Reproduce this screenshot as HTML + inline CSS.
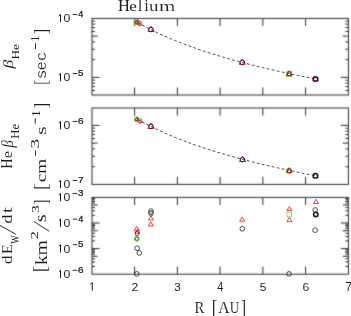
<!DOCTYPE html><html><head><meta charset="utf-8"><style>html,body{margin:0;padding:0;background:#fff;overflow:hidden}svg{display:block}</style></head><body><svg width="351" height="316" viewBox="0 0 351 316"><defs><filter id="soft" filterUnits="userSpaceOnUse" x="0" y="0" width="351" height="316"><feConvolveMatrix order="3" kernelMatrix="0.0400 0.2000 0.0400 0.2000 1.0000 0.2000 0.0400 0.2000 0.0400" edgeMode="none" preserveAlpha="false"/></filter><filter id="softm" filterUnits="userSpaceOnUse" x="0" y="0" width="351" height="316"><feConvolveMatrix order="3" kernelMatrix="0.0000 0.0000 0.0000 0.0000 1.0000 0.0000 0.0000 0.0000 0.0000" edgeMode="none" preserveAlpha="false"/></filter><filter id="softt" filterUnits="userSpaceOnUse" x="0" y="0" width="351" height="316"><feConvolveMatrix order="3" kernelMatrix="0.0000 0.0000 0.0000 0.0000 1.0000 0.0000 0.0000 0.0000 0.0000" edgeMode="none" preserveAlpha="false"/></filter></defs><rect width="351" height="316" fill="#fff"/><g filter="url(#soft)"><rect x="92.00" y="18.40" width="256.40" height="76.60" fill="none" stroke="#2e2e2e" stroke-width="1.0"/><line x1="134.60" y1="95.00" x2="134.60" y2="87.40" stroke="#2e2e2e" stroke-width="1.0"/><line x1="134.60" y1="18.40" x2="134.60" y2="26.00" stroke="#2e2e2e" stroke-width="1.0"/><line x1="177.35" y1="95.00" x2="177.35" y2="87.40" stroke="#2e2e2e" stroke-width="1.0"/><line x1="177.35" y1="18.40" x2="177.35" y2="26.00" stroke="#2e2e2e" stroke-width="1.0"/><line x1="220.10" y1="95.00" x2="220.10" y2="87.40" stroke="#2e2e2e" stroke-width="1.0"/><line x1="220.10" y1="18.40" x2="220.10" y2="26.00" stroke="#2e2e2e" stroke-width="1.0"/><line x1="262.85" y1="95.00" x2="262.85" y2="87.40" stroke="#2e2e2e" stroke-width="1.0"/><line x1="262.85" y1="18.40" x2="262.85" y2="26.00" stroke="#2e2e2e" stroke-width="1.0"/><line x1="305.60" y1="95.00" x2="305.60" y2="87.40" stroke="#2e2e2e" stroke-width="1.0"/><line x1="305.60" y1="18.40" x2="305.60" y2="26.00" stroke="#2e2e2e" stroke-width="1.0"/><line x1="92.00" y1="90.49" x2="95.00" y2="90.49" stroke="#2e2e2e" stroke-width="1.0"/><line x1="348.40" y1="90.49" x2="345.40" y2="90.49" stroke="#2e2e2e" stroke-width="1.0"/><line x1="92.00" y1="86.54" x2="95.00" y2="86.54" stroke="#2e2e2e" stroke-width="1.0"/><line x1="348.40" y1="86.54" x2="345.40" y2="86.54" stroke="#2e2e2e" stroke-width="1.0"/><line x1="92.00" y1="83.12" x2="95.00" y2="83.12" stroke="#2e2e2e" stroke-width="1.0"/><line x1="348.40" y1="83.12" x2="345.40" y2="83.12" stroke="#2e2e2e" stroke-width="1.0"/><line x1="92.00" y1="80.10" x2="95.00" y2="80.10" stroke="#2e2e2e" stroke-width="1.0"/><line x1="348.40" y1="80.10" x2="345.40" y2="80.10" stroke="#2e2e2e" stroke-width="1.0"/><line x1="92.00" y1="77.40" x2="99.60" y2="77.40" stroke="#2e2e2e" stroke-width="1.0"/><line x1="348.40" y1="77.40" x2="340.80" y2="77.40" stroke="#2e2e2e" stroke-width="1.0"/><line x1="92.00" y1="59.64" x2="95.00" y2="59.64" stroke="#2e2e2e" stroke-width="1.0"/><line x1="348.40" y1="59.64" x2="345.40" y2="59.64" stroke="#2e2e2e" stroke-width="1.0"/><line x1="92.00" y1="49.25" x2="95.00" y2="49.25" stroke="#2e2e2e" stroke-width="1.0"/><line x1="348.40" y1="49.25" x2="345.40" y2="49.25" stroke="#2e2e2e" stroke-width="1.0"/><line x1="92.00" y1="41.88" x2="95.00" y2="41.88" stroke="#2e2e2e" stroke-width="1.0"/><line x1="348.40" y1="41.88" x2="345.40" y2="41.88" stroke="#2e2e2e" stroke-width="1.0"/><line x1="92.00" y1="36.16" x2="97.60" y2="36.16" stroke="#2e2e2e" stroke-width="1.0"/><line x1="348.40" y1="36.16" x2="342.80" y2="36.16" stroke="#2e2e2e" stroke-width="1.0"/><line x1="92.00" y1="31.49" x2="95.00" y2="31.49" stroke="#2e2e2e" stroke-width="1.0"/><line x1="348.40" y1="31.49" x2="345.40" y2="31.49" stroke="#2e2e2e" stroke-width="1.0"/><line x1="92.00" y1="27.54" x2="95.00" y2="27.54" stroke="#2e2e2e" stroke-width="1.0"/><line x1="348.40" y1="27.54" x2="345.40" y2="27.54" stroke="#2e2e2e" stroke-width="1.0"/><line x1="92.00" y1="24.12" x2="95.00" y2="24.12" stroke="#2e2e2e" stroke-width="1.0"/><line x1="348.40" y1="24.12" x2="345.40" y2="24.12" stroke="#2e2e2e" stroke-width="1.0"/><line x1="92.00" y1="21.10" x2="95.00" y2="21.10" stroke="#2e2e2e" stroke-width="1.0"/><line x1="348.40" y1="21.10" x2="345.40" y2="21.10" stroke="#2e2e2e" stroke-width="1.0"/><rect x="92.00" y="108.00" width="256.40" height="76.40" fill="none" stroke="#2e2e2e" stroke-width="1.0"/><line x1="134.60" y1="184.40" x2="134.60" y2="176.80" stroke="#2e2e2e" stroke-width="1.0"/><line x1="134.60" y1="108.00" x2="134.60" y2="115.60" stroke="#2e2e2e" stroke-width="1.0"/><line x1="177.35" y1="184.40" x2="177.35" y2="176.80" stroke="#2e2e2e" stroke-width="1.0"/><line x1="177.35" y1="108.00" x2="177.35" y2="115.60" stroke="#2e2e2e" stroke-width="1.0"/><line x1="220.10" y1="184.40" x2="220.10" y2="176.80" stroke="#2e2e2e" stroke-width="1.0"/><line x1="220.10" y1="108.00" x2="220.10" y2="115.60" stroke="#2e2e2e" stroke-width="1.0"/><line x1="262.85" y1="184.40" x2="262.85" y2="176.80" stroke="#2e2e2e" stroke-width="1.0"/><line x1="262.85" y1="108.00" x2="262.85" y2="115.60" stroke="#2e2e2e" stroke-width="1.0"/><line x1="305.60" y1="184.40" x2="305.60" y2="176.80" stroke="#2e2e2e" stroke-width="1.0"/><line x1="305.60" y1="108.00" x2="305.60" y2="115.60" stroke="#2e2e2e" stroke-width="1.0"/><line x1="92.00" y1="166.64" x2="95.00" y2="166.64" stroke="#2e2e2e" stroke-width="1.0"/><line x1="348.40" y1="166.64" x2="345.40" y2="166.64" stroke="#2e2e2e" stroke-width="1.0"/><line x1="92.00" y1="156.25" x2="95.00" y2="156.25" stroke="#2e2e2e" stroke-width="1.0"/><line x1="348.40" y1="156.25" x2="345.40" y2="156.25" stroke="#2e2e2e" stroke-width="1.0"/><line x1="92.00" y1="148.88" x2="95.00" y2="148.88" stroke="#2e2e2e" stroke-width="1.0"/><line x1="348.40" y1="148.88" x2="345.40" y2="148.88" stroke="#2e2e2e" stroke-width="1.0"/><line x1="92.00" y1="143.16" x2="97.60" y2="143.16" stroke="#2e2e2e" stroke-width="1.0"/><line x1="348.40" y1="143.16" x2="342.80" y2="143.16" stroke="#2e2e2e" stroke-width="1.0"/><line x1="92.00" y1="138.49" x2="95.00" y2="138.49" stroke="#2e2e2e" stroke-width="1.0"/><line x1="348.40" y1="138.49" x2="345.40" y2="138.49" stroke="#2e2e2e" stroke-width="1.0"/><line x1="92.00" y1="134.54" x2="95.00" y2="134.54" stroke="#2e2e2e" stroke-width="1.0"/><line x1="348.40" y1="134.54" x2="345.40" y2="134.54" stroke="#2e2e2e" stroke-width="1.0"/><line x1="92.00" y1="131.12" x2="95.00" y2="131.12" stroke="#2e2e2e" stroke-width="1.0"/><line x1="348.40" y1="131.12" x2="345.40" y2="131.12" stroke="#2e2e2e" stroke-width="1.0"/><line x1="92.00" y1="128.10" x2="95.00" y2="128.10" stroke="#2e2e2e" stroke-width="1.0"/><line x1="348.40" y1="128.10" x2="345.40" y2="128.10" stroke="#2e2e2e" stroke-width="1.0"/><line x1="92.00" y1="125.40" x2="99.60" y2="125.40" stroke="#2e2e2e" stroke-width="1.0"/><line x1="348.40" y1="125.40" x2="340.80" y2="125.40" stroke="#2e2e2e" stroke-width="1.0"/><rect x="92.00" y="197.40" width="256.40" height="76.80" fill="none" stroke="#2e2e2e" stroke-width="1.0"/><line x1="134.60" y1="274.20" x2="134.60" y2="266.60" stroke="#2e2e2e" stroke-width="1.0"/><line x1="134.60" y1="197.40" x2="134.60" y2="205.00" stroke="#2e2e2e" stroke-width="1.0"/><line x1="177.35" y1="274.20" x2="177.35" y2="266.60" stroke="#2e2e2e" stroke-width="1.0"/><line x1="177.35" y1="197.40" x2="177.35" y2="205.00" stroke="#2e2e2e" stroke-width="1.0"/><line x1="220.10" y1="274.20" x2="220.10" y2="266.60" stroke="#2e2e2e" stroke-width="1.0"/><line x1="220.10" y1="197.40" x2="220.10" y2="205.00" stroke="#2e2e2e" stroke-width="1.0"/><line x1="262.85" y1="274.20" x2="262.85" y2="266.60" stroke="#2e2e2e" stroke-width="1.0"/><line x1="262.85" y1="197.40" x2="262.85" y2="205.00" stroke="#2e2e2e" stroke-width="1.0"/><line x1="305.60" y1="274.20" x2="305.60" y2="266.60" stroke="#2e2e2e" stroke-width="1.0"/><line x1="305.60" y1="197.40" x2="305.60" y2="205.00" stroke="#2e2e2e" stroke-width="1.0"/><line x1="92.00" y1="266.49" x2="95.00" y2="266.49" stroke="#2e2e2e" stroke-width="1.0"/><line x1="348.40" y1="266.49" x2="345.40" y2="266.49" stroke="#2e2e2e" stroke-width="1.0"/><line x1="92.00" y1="261.99" x2="95.00" y2="261.99" stroke="#2e2e2e" stroke-width="1.0"/><line x1="348.40" y1="261.99" x2="345.40" y2="261.99" stroke="#2e2e2e" stroke-width="1.0"/><line x1="92.00" y1="258.79" x2="95.00" y2="258.79" stroke="#2e2e2e" stroke-width="1.0"/><line x1="348.40" y1="258.79" x2="345.40" y2="258.79" stroke="#2e2e2e" stroke-width="1.0"/><line x1="92.00" y1="256.31" x2="97.60" y2="256.31" stroke="#2e2e2e" stroke-width="1.0"/><line x1="348.40" y1="256.31" x2="342.80" y2="256.31" stroke="#2e2e2e" stroke-width="1.0"/><line x1="92.00" y1="254.28" x2="95.00" y2="254.28" stroke="#2e2e2e" stroke-width="1.0"/><line x1="348.40" y1="254.28" x2="345.40" y2="254.28" stroke="#2e2e2e" stroke-width="1.0"/><line x1="92.00" y1="252.57" x2="95.00" y2="252.57" stroke="#2e2e2e" stroke-width="1.0"/><line x1="348.40" y1="252.57" x2="345.40" y2="252.57" stroke="#2e2e2e" stroke-width="1.0"/><line x1="92.00" y1="251.08" x2="95.00" y2="251.08" stroke="#2e2e2e" stroke-width="1.0"/><line x1="348.40" y1="251.08" x2="345.40" y2="251.08" stroke="#2e2e2e" stroke-width="1.0"/><line x1="92.00" y1="249.77" x2="95.00" y2="249.77" stroke="#2e2e2e" stroke-width="1.0"/><line x1="348.40" y1="249.77" x2="345.40" y2="249.77" stroke="#2e2e2e" stroke-width="1.0"/><line x1="92.00" y1="248.60" x2="99.60" y2="248.60" stroke="#2e2e2e" stroke-width="1.0"/><line x1="348.40" y1="248.60" x2="340.80" y2="248.60" stroke="#2e2e2e" stroke-width="1.0"/><line x1="92.00" y1="240.89" x2="95.00" y2="240.89" stroke="#2e2e2e" stroke-width="1.0"/><line x1="348.40" y1="240.89" x2="345.40" y2="240.89" stroke="#2e2e2e" stroke-width="1.0"/><line x1="92.00" y1="236.39" x2="95.00" y2="236.39" stroke="#2e2e2e" stroke-width="1.0"/><line x1="348.40" y1="236.39" x2="345.40" y2="236.39" stroke="#2e2e2e" stroke-width="1.0"/><line x1="92.00" y1="233.19" x2="95.00" y2="233.19" stroke="#2e2e2e" stroke-width="1.0"/><line x1="348.40" y1="233.19" x2="345.40" y2="233.19" stroke="#2e2e2e" stroke-width="1.0"/><line x1="92.00" y1="230.71" x2="97.60" y2="230.71" stroke="#2e2e2e" stroke-width="1.0"/><line x1="348.40" y1="230.71" x2="342.80" y2="230.71" stroke="#2e2e2e" stroke-width="1.0"/><line x1="92.00" y1="228.68" x2="95.00" y2="228.68" stroke="#2e2e2e" stroke-width="1.0"/><line x1="348.40" y1="228.68" x2="345.40" y2="228.68" stroke="#2e2e2e" stroke-width="1.0"/><line x1="92.00" y1="226.97" x2="95.00" y2="226.97" stroke="#2e2e2e" stroke-width="1.0"/><line x1="348.40" y1="226.97" x2="345.40" y2="226.97" stroke="#2e2e2e" stroke-width="1.0"/><line x1="92.00" y1="225.48" x2="95.00" y2="225.48" stroke="#2e2e2e" stroke-width="1.0"/><line x1="348.40" y1="225.48" x2="345.40" y2="225.48" stroke="#2e2e2e" stroke-width="1.0"/><line x1="92.00" y1="224.17" x2="95.00" y2="224.17" stroke="#2e2e2e" stroke-width="1.0"/><line x1="348.40" y1="224.17" x2="345.40" y2="224.17" stroke="#2e2e2e" stroke-width="1.0"/><line x1="92.00" y1="223.00" x2="99.60" y2="223.00" stroke="#2e2e2e" stroke-width="1.0"/><line x1="348.40" y1="223.00" x2="340.80" y2="223.00" stroke="#2e2e2e" stroke-width="1.0"/><line x1="92.00" y1="215.29" x2="95.00" y2="215.29" stroke="#2e2e2e" stroke-width="1.0"/><line x1="348.40" y1="215.29" x2="345.40" y2="215.29" stroke="#2e2e2e" stroke-width="1.0"/><line x1="92.00" y1="210.79" x2="95.00" y2="210.79" stroke="#2e2e2e" stroke-width="1.0"/><line x1="348.40" y1="210.79" x2="345.40" y2="210.79" stroke="#2e2e2e" stroke-width="1.0"/><line x1="92.00" y1="207.59" x2="95.00" y2="207.59" stroke="#2e2e2e" stroke-width="1.0"/><line x1="348.40" y1="207.59" x2="345.40" y2="207.59" stroke="#2e2e2e" stroke-width="1.0"/><line x1="92.00" y1="205.11" x2="97.60" y2="205.11" stroke="#2e2e2e" stroke-width="1.0"/><line x1="348.40" y1="205.11" x2="342.80" y2="205.11" stroke="#2e2e2e" stroke-width="1.0"/><line x1="92.00" y1="203.08" x2="95.00" y2="203.08" stroke="#2e2e2e" stroke-width="1.0"/><line x1="348.40" y1="203.08" x2="345.40" y2="203.08" stroke="#2e2e2e" stroke-width="1.0"/><line x1="92.00" y1="201.37" x2="95.00" y2="201.37" stroke="#2e2e2e" stroke-width="1.0"/><line x1="348.40" y1="201.37" x2="345.40" y2="201.37" stroke="#2e2e2e" stroke-width="1.0"/><line x1="92.00" y1="199.88" x2="95.00" y2="199.88" stroke="#2e2e2e" stroke-width="1.0"/><line x1="348.40" y1="199.88" x2="345.40" y2="199.88" stroke="#2e2e2e" stroke-width="1.0"/><line x1="92.00" y1="198.57" x2="95.00" y2="198.57" stroke="#2e2e2e" stroke-width="1.0"/><line x1="348.40" y1="198.57" x2="345.40" y2="198.57" stroke="#2e2e2e" stroke-width="1.0"/></g><g filter="url(#softt)"><polyline points="137.50,22.40 139.73,23.67 141.95,24.92 144.18,26.13 146.41,27.32 148.63,28.48 150.86,29.61 153.08,30.72 155.31,31.81 157.54,32.87 159.76,33.91 161.99,34.93 164.22,35.93 166.44,36.91 168.67,37.88 170.89,38.82 173.12,39.75 175.35,40.66 177.57,41.56 179.80,42.44 182.03,43.30 184.25,44.16 186.48,44.99 188.70,45.82 190.93,46.63 193.16,47.43 195.38,48.21 197.61,48.99 199.84,49.75 202.06,50.50 204.29,51.24 206.51,51.97 208.74,52.69 210.97,53.40 213.19,54.10 215.42,54.79 217.65,55.47 219.87,56.14 222.10,56.81 224.32,57.46 226.55,58.11 228.78,58.75 231.00,59.38 233.23,60.00 235.46,60.62 237.68,61.23 239.91,61.83 242.13,62.42 244.36,63.01 246.59,63.59 248.81,64.17 251.04,64.73 253.27,65.30 255.49,65.85 257.72,66.40 259.94,66.95 262.17,67.48 264.40,68.02 266.62,68.54 268.85,69.07 271.08,69.58 273.30,70.09 275.53,70.60 277.75,71.10 279.98,71.60 282.21,72.09 284.43,72.58 286.66,73.06 288.88,73.54 291.11,74.01 293.34,74.48 295.56,74.95 297.79,75.41 300.02,75.86 302.24,76.32 304.47,76.76 306.70,77.21 308.92,77.65 311.15,78.09 313.37,78.52 315.60,78.95" fill="none" stroke="#484848" stroke-width="1.0" stroke-dasharray="2.8 2.3"/><polyline points="137.50,119.20 139.73,120.47 141.95,121.72 144.18,122.93 146.41,124.12 148.63,125.28 150.86,126.41 153.08,127.52 155.31,128.61 157.54,129.67 159.76,130.71 161.99,131.73 164.22,132.73 166.44,133.71 168.67,134.68 170.89,135.62 173.12,136.55 175.35,137.46 177.57,138.36 179.80,139.24 182.03,140.10 184.25,140.96 186.48,141.79 188.70,142.62 190.93,143.43 193.16,144.23 195.38,145.01 197.61,145.79 199.84,146.55 202.06,147.30 204.29,148.04 206.51,148.77 208.74,149.49 210.97,150.20 213.19,150.90 215.42,151.59 217.65,152.27 219.87,152.94 222.10,153.61 224.32,154.26 226.55,154.91 228.78,155.55 231.00,156.18 233.23,156.80 235.46,157.42 237.68,158.03 239.91,158.63 242.13,159.22 244.36,159.81 246.59,160.39 248.81,160.97 251.04,161.53 253.27,162.10 255.49,162.65 257.72,163.20 259.94,163.75 262.17,164.28 264.40,164.82 266.62,165.34 268.85,165.87 271.08,166.38 273.30,166.89 275.53,167.40 277.75,167.90 279.98,168.40 282.21,168.89 284.43,169.38 286.66,169.86 288.88,170.34 291.11,170.81 293.34,171.28 295.56,171.75 297.79,172.21 300.02,172.66 302.24,173.12 304.47,173.56 306.70,174.01 308.92,174.45 311.15,174.89 313.37,175.32 315.60,175.75" fill="none" stroke="#484848" stroke-width="1.0" stroke-dasharray="2.8 2.3"/></g><g filter="url(#softm)"><rect x="134.25" y="19.55" width="4.7" height="4.7" fill="none" stroke="#5cd02c" stroke-width="1.0"/><circle cx="136.80" cy="22.20" r="1.8" fill="none" stroke="#f00000" stroke-width="1.0"/><circle cx="137.00" cy="22.30" r="1.2" fill="none" stroke="#334" stroke-width="0.75"/><circle cx="139.50" cy="23.40" r="2.3" fill="none" stroke="#555" stroke-width="0.75"/><polygon points="140.00,22.47 141.50,25.02 138.50,25.02" fill="none" stroke="#f00000" stroke-width="0.75"/><polygon points="151.00,26.04 154.20,31.48 147.80,31.48" fill="none" stroke="#f00000" stroke-width="0.8"/><circle cx="151.00" cy="29.50" r="2.3" fill="none" stroke="#1a1a1a" stroke-width="0.9"/><polygon points="242.30,58.94 245.50,64.38 239.10,64.38" fill="none" stroke="#f00000" stroke-width="0.8"/><circle cx="242.30" cy="62.40" r="2.3" fill="none" stroke="#1a1a1a" stroke-width="0.9"/><rect x="286.70" y="71.40" width="5.0" height="5.0" fill="none" stroke="#5cd02c" stroke-width="0.9"/><circle cx="289.20" cy="73.80" r="1.9" fill="none" stroke="#1a1a1a" stroke-width="0.9"/><polygon points="289.20,70.64 292.10,75.57 286.30,75.57" fill="none" stroke="#f00000" stroke-width="0.75"/><polygon points="315.50,76.04 318.40,80.97 312.60,80.97" fill="none" stroke="#f00000" stroke-width="0.7"/><circle cx="315.50" cy="79.00" r="2.3" fill="none" stroke="#1a1a1a" stroke-width="1.5"/><circle cx="136.60" cy="119.00" r="2.4" fill="none" stroke="#5cd02c" stroke-width="1.0"/><polygon points="136.80,117.46 138.70,120.69 134.90,120.69" fill="none" stroke="#f00000" stroke-width="0.75"/><circle cx="136.90" cy="119.30" r="1.2" fill="none" stroke="#334" stroke-width="0.75"/><circle cx="139.80" cy="121.00" r="2.3" fill="none" stroke="#555" stroke-width="0.75"/><polygon points="140.20,119.97 141.60,122.35 138.80,122.35" fill="none" stroke="#f00000" stroke-width="0.75"/><polygon points="151.00,123.04 154.20,128.48 147.80,128.48" fill="none" stroke="#f00000" stroke-width="0.8"/><circle cx="151.00" cy="126.50" r="2.3" fill="none" stroke="#1a1a1a" stroke-width="0.9"/><polygon points="242.50,156.14 245.70,161.58 239.30,161.58" fill="none" stroke="#f00000" stroke-width="0.8"/><circle cx="242.50" cy="159.60" r="2.3" fill="none" stroke="#1a1a1a" stroke-width="0.9"/><circle cx="289.20" cy="170.80" r="2.7" fill="none" stroke="#5cd02c" stroke-width="0.9"/><circle cx="289.20" cy="170.80" r="1.9" fill="none" stroke="#1a1a1a" stroke-width="0.9"/><polygon points="289.20,167.64 292.10,172.57 286.30,172.57" fill="none" stroke="#f00000" stroke-width="0.75"/><polygon points="315.50,172.84 318.40,177.77 312.60,177.77" fill="none" stroke="#f00000" stroke-width="0.7"/><circle cx="315.50" cy="175.80" r="2.3" fill="none" stroke="#1a1a1a" stroke-width="1.5"/><polygon points="136.70,226.45 139.20,230.70 134.20,230.70" fill="none" stroke="#f00000" stroke-width="0.75"/><polygon points="137.60,228.95 140.10,233.20 135.10,233.20" fill="none" stroke="#f00000" stroke-width="0.75"/><circle cx="137.00" cy="233.50" r="2.0" fill="none" stroke="#1a1a1a" stroke-width="0.75"/><circle cx="136.80" cy="238.80" r="2.5" fill="none" stroke="#5cd02c" stroke-width="1.0"/><circle cx="136.80" cy="238.80" r="1.6" fill="none" stroke="#334" stroke-width="0.75"/><circle cx="137.10" cy="248.20" r="2.35" fill="none" stroke="#1a1a1a" stroke-width="0.75"/><circle cx="139.30" cy="253.00" r="2.35" fill="none" stroke="#1a1a1a" stroke-width="0.75"/><circle cx="136.80" cy="273.90" r="2.35" fill="none" stroke="#1a1a1a" stroke-width="0.75"/><circle cx="151.00" cy="211.00" r="2.35" fill="none" stroke="#444" stroke-width="0.75"/><circle cx="151.00" cy="212.30" r="2.35" fill="none" stroke="#444" stroke-width="0.75"/><circle cx="151.00" cy="213.60" r="2.35" fill="none" stroke="#444" stroke-width="0.75"/><polygon points="151.00,215.65 153.50,219.90 148.50,219.90" fill="none" stroke="#f00000" stroke-width="0.75"/><polygon points="150.80,221.75 153.30,226.00 148.30,226.00" fill="none" stroke="#f00000" stroke-width="0.75"/><polygon points="242.20,216.95 244.70,221.20 239.70,221.20" fill="none" stroke="#f00000" stroke-width="0.75"/><circle cx="242.30" cy="228.80" r="2.35" fill="none" stroke="#1a1a1a" stroke-width="0.75"/><polygon points="289.40,206.45 291.90,210.70 286.90,210.70" fill="none" stroke="#f00000" stroke-width="0.75"/><rect x="287.00" y="212.20" width="4.6" height="4.6" fill="none" stroke="#8ed860" stroke-width="0.9"/><polygon points="289.40,217.45 291.90,221.70 286.90,221.70" fill="none" stroke="#f00000" stroke-width="0.75"/><circle cx="289.00" cy="273.90" r="2.35" fill="none" stroke="#1a1a1a" stroke-width="0.75"/><polygon points="316.00,199.25 318.50,203.50 313.50,203.50" fill="none" stroke="#f00000" stroke-width="0.75"/><circle cx="315.20" cy="210.00" r="2.35" fill="none" stroke="#1a1a1a" stroke-width="0.75"/><polygon points="315.80,211.95 318.10,215.86 313.50,215.86" fill="none" stroke="#f00000" stroke-width="0.7"/><circle cx="315.80" cy="214.50" r="2.3" fill="none" stroke="#1a1a1a" stroke-width="1.3"/><circle cx="315.10" cy="230.20" r="2.35" fill="none" stroke="#1a1a1a" stroke-width="0.75"/></g><g filter="url(#softt)"><path d="M90.30,284.30 L92.30,282.70 L92.30,290.70" fill="none" stroke="#1a1a1a" stroke-width="1.0" stroke-linejoin="miter"/><path d="M58.90,15.90 L60.50,14.50 L60.50,22.30" fill="none" stroke="#1a1a1a" stroke-width="1.0" stroke-linejoin="miter"/><line x1="72.8" y1="14.50" x2="77.2" y2="14.50" stroke="#1a1a1a" stroke-width="0.9"/><path d="M58.90,74.90 L60.50,73.50 L60.50,81.30" fill="none" stroke="#1a1a1a" stroke-width="1.0" stroke-linejoin="miter"/><line x1="72.8" y1="73.50" x2="77.2" y2="73.50" stroke="#1a1a1a" stroke-width="0.9"/><path d="M58.90,122.90 L60.50,121.50 L60.50,129.30" fill="none" stroke="#1a1a1a" stroke-width="1.0" stroke-linejoin="miter"/><line x1="72.8" y1="121.50" x2="77.2" y2="121.50" stroke="#1a1a1a" stroke-width="0.9"/><path d="M58.90,181.90 L60.50,180.50 L60.50,188.30" fill="none" stroke="#1a1a1a" stroke-width="1.0" stroke-linejoin="miter"/><line x1="72.8" y1="180.50" x2="77.2" y2="180.50" stroke="#1a1a1a" stroke-width="0.9"/><path d="M58.90,194.90 L60.50,193.50 L60.50,201.30" fill="none" stroke="#1a1a1a" stroke-width="1.0" stroke-linejoin="miter"/><line x1="72.8" y1="193.50" x2="77.2" y2="193.50" stroke="#1a1a1a" stroke-width="0.9"/><path d="M58.90,220.50 L60.50,219.10 L60.50,226.90" fill="none" stroke="#1a1a1a" stroke-width="1.0" stroke-linejoin="miter"/><line x1="72.8" y1="219.10" x2="77.2" y2="219.10" stroke="#1a1a1a" stroke-width="0.9"/><path d="M58.90,246.10 L60.50,244.70 L60.50,252.50" fill="none" stroke="#1a1a1a" stroke-width="1.0" stroke-linejoin="miter"/><line x1="72.8" y1="244.70" x2="77.2" y2="244.70" stroke="#1a1a1a" stroke-width="0.9"/><path d="M58.90,271.70 L60.50,270.30 L60.50,278.10" fill="none" stroke="#1a1a1a" stroke-width="1.0" stroke-linejoin="miter"/><line x1="72.8" y1="270.30" x2="77.2" y2="270.30" stroke="#1a1a1a" stroke-width="0.9"/><line x1="35.5" y1="49.3" x2="35.5" y2="43.3" stroke="#1a1a1a" stroke-width="0.9"/><line x1="35.5" y1="155.7" x2="35.5" y2="150.5" stroke="#1a1a1a" stroke-width="0.9"/><line x1="35.3" y1="123.7" x2="35.3" y2="118.2" stroke="#1a1a1a" stroke-width="0.9"/><line x1="15.7" y1="234.2" x2="0.0" y2="225.4" stroke="#1a1a1a" stroke-width="0.9"/><line x1="49.2" y1="231.2" x2="33.9" y2="221.5" stroke="#1a1a1a" stroke-width="0.9"/><text transform="matrix(0.16364 0.00000 0.00000 0.17077 117.90909 10.80000)" font-family="&quot;Liberation Serif&quot;, serif" font-size="100" fill="#1a1a1a">H</text><text transform="matrix(0.17027 0.00000 0.00000 0.14583 129.31892 10.85417)" font-family="&quot;Liberation Serif&quot;, serif" font-size="100" fill="#1a1a1a">e</text><text transform="matrix(0.15000 0.00000 0.00000 0.16087 137.90000 10.80000)" font-family="&quot;Liberation Serif&quot;, serif" font-size="100" fill="#1a1a1a">l</text><text transform="matrix(0.15000 0.00000 0.00000 0.16769 144.40000 10.80000)" font-family="&quot;Liberation Serif&quot;, serif" font-size="100" fill="#1a1a1a">i</text><text transform="matrix(0.18936 0.00000 0.00000 0.14468 149.01064 10.85532)" font-family="&quot;Liberation Serif&quot;, serif" font-size="100" fill="#1a1a1a" stroke="#fff" stroke-width="0.1" vector-effect="non-scaling-stroke">u</text><text transform="matrix(0.21081 0.00000 0.00000 0.14043 158.87838 10.80000)" font-family="&quot;Liberation Serif&quot;, serif" font-size="100" fill="#1a1a1a" stroke="#fff" stroke-width="0.15" vector-effect="non-scaling-stroke">m</text><text transform="matrix(0.14688 0.00000 0.00000 0.17077 194.55937 312.70000)" font-family="&quot;Liberation Serif&quot;, serif" font-size="100" fill="#1a1a1a" stroke="#fff" stroke-width="0.08" vector-effect="non-scaling-stroke">R</text><text transform="matrix(0.16957 0.00000 0.00000 0.20244 211.71304 313.76829)" font-family="&quot;Liberation Serif&quot;, serif" font-size="100" fill="#1a1a1a" stroke="#fff" stroke-width="0.08" vector-effect="non-scaling-stroke">[</text><text transform="matrix(0.15714 0.00000 0.00000 0.17077 218.34286 312.77077)" font-family="&quot;Liberation Serif&quot;, serif" font-size="100" fill="#1a1a1a" stroke="#fff" stroke-width="0.08" vector-effect="non-scaling-stroke">A</text><text transform="matrix(0.13529 0.00000 0.00000 0.17121 229.72941 312.62879)" font-family="&quot;Liberation Serif&quot;, serif" font-size="100" fill="#1a1a1a" stroke="#fff" stroke-width="0.08" vector-effect="non-scaling-stroke">U</text><text transform="matrix(0.16364 0.00000 0.00000 0.20244 240.74545 313.76829)" font-family="&quot;Liberation Serif&quot;, serif" font-size="100" fill="#1a1a1a" stroke="#fff" stroke-width="0.08" vector-effect="non-scaling-stroke">]</text><text transform="matrix(0.12174 0.00000 0.00000 0.11571 131.39130 290.70000)" font-family="&quot;Liberation Sans&quot;, sans-serif" font-size="100" fill="#1a1a1a" stroke="#fff" stroke-width="0.03" vector-effect="non-scaling-stroke">2</text><text transform="matrix(0.11915 0.00000 0.00000 0.11408 174.27340 290.58592)" font-family="&quot;Liberation Sans&quot;, sans-serif" font-size="100" fill="#1a1a1a" stroke="#fff" stroke-width="0.03" vector-effect="non-scaling-stroke">3</text><text transform="matrix(0.10980 0.00000 0.00000 0.11912 217.28039 290.81912)" font-family="&quot;Liberation Sans&quot;, sans-serif" font-size="100" fill="#1a1a1a" stroke="#fff" stroke-width="0.03" vector-effect="non-scaling-stroke">4</text><text transform="matrix(0.11915 0.00000 0.00000 0.11571 259.77340 290.58429)" font-family="&quot;Liberation Sans&quot;, sans-serif" font-size="100" fill="#1a1a1a" stroke="#fff" stroke-width="0.03" vector-effect="non-scaling-stroke">5</text><text transform="matrix(0.12174 0.00000 0.00000 0.11408 302.39130 290.58592)" font-family="&quot;Liberation Sans&quot;, sans-serif" font-size="100" fill="#1a1a1a" stroke="#fff" stroke-width="0.03" vector-effect="non-scaling-stroke">6</text><text transform="matrix(0.12174 0.00000 0.00000 0.11912 345.14130 290.81912)" font-family="&quot;Liberation Sans&quot;, sans-serif" font-size="100" fill="#1a1a1a" stroke="#fff" stroke-width="0.03" vector-effect="non-scaling-stroke">7</text><text transform="matrix(0.12292 0.00000 0.00000 0.11549 63.60833 22.38451)" font-family="&quot;Liberation Sans&quot;, sans-serif" font-size="100" fill="#1a1a1a" stroke="#fff" stroke-width="0.03" vector-effect="non-scaling-stroke">0</text><text transform="matrix(0.09020 0.00000 0.00000 0.09118 78.21961 17.39118)" font-family="&quot;Liberation Sans&quot;, sans-serif" font-size="100" fill="#1a1a1a" stroke="#1a1a1a" stroke-width="0.25" vector-effect="non-scaling-stroke">4</text><text transform="matrix(0.12292 0.00000 0.00000 0.11549 63.60833 81.38451)" font-family="&quot;Liberation Sans&quot;, sans-serif" font-size="100" fill="#1a1a1a" stroke="#fff" stroke-width="0.03" vector-effect="non-scaling-stroke">0</text><text transform="matrix(0.09787 0.00000 0.00000 0.08857 78.00851 76.21143)" font-family="&quot;Liberation Sans&quot;, sans-serif" font-size="100" fill="#1a1a1a" stroke="#1a1a1a" stroke-width="0.25" vector-effect="non-scaling-stroke">5</text><text transform="matrix(0.12292 0.00000 0.00000 0.11549 63.60833 129.38451)" font-family="&quot;Liberation Sans&quot;, sans-serif" font-size="100" fill="#1a1a1a" stroke="#fff" stroke-width="0.03" vector-effect="non-scaling-stroke">0</text><text transform="matrix(0.10000 0.00000 0.00000 0.08732 77.90000 124.21268)" font-family="&quot;Liberation Sans&quot;, sans-serif" font-size="100" fill="#1a1a1a" stroke="#1a1a1a" stroke-width="0.25" vector-effect="non-scaling-stroke">6</text><text transform="matrix(0.12292 0.00000 0.00000 0.11549 63.60833 188.38451)" font-family="&quot;Liberation Sans&quot;, sans-serif" font-size="100" fill="#1a1a1a" stroke="#fff" stroke-width="0.03" vector-effect="non-scaling-stroke">0</text><text transform="matrix(0.10000 0.00000 0.00000 0.09118 77.90000 183.39118)" font-family="&quot;Liberation Sans&quot;, sans-serif" font-size="100" fill="#1a1a1a" stroke="#1a1a1a" stroke-width="0.25" vector-effect="non-scaling-stroke">7</text><text transform="matrix(0.12292 0.00000 0.00000 0.11549 63.60833 201.38451)" font-family="&quot;Liberation Sans&quot;, sans-serif" font-size="100" fill="#1a1a1a" stroke="#fff" stroke-width="0.03" vector-effect="non-scaling-stroke">0</text><text transform="matrix(0.09787 0.00000 0.00000 0.08732 78.00851 196.21268)" font-family="&quot;Liberation Sans&quot;, sans-serif" font-size="100" fill="#1a1a1a" stroke="#1a1a1a" stroke-width="0.25" vector-effect="non-scaling-stroke">3</text><text transform="matrix(0.12292 0.00000 0.00000 0.11549 63.60833 226.98451)" font-family="&quot;Liberation Sans&quot;, sans-serif" font-size="100" fill="#1a1a1a" stroke="#fff" stroke-width="0.03" vector-effect="non-scaling-stroke">0</text><text transform="matrix(0.09020 0.00000 0.00000 0.09118 78.21961 221.99118)" font-family="&quot;Liberation Sans&quot;, sans-serif" font-size="100" fill="#1a1a1a" stroke="#1a1a1a" stroke-width="0.25" vector-effect="non-scaling-stroke">4</text><text transform="matrix(0.12292 0.00000 0.00000 0.11549 63.60833 252.58451)" font-family="&quot;Liberation Sans&quot;, sans-serif" font-size="100" fill="#1a1a1a" stroke="#fff" stroke-width="0.03" vector-effect="non-scaling-stroke">0</text><text transform="matrix(0.09787 0.00000 0.00000 0.08857 78.00851 247.41143)" font-family="&quot;Liberation Sans&quot;, sans-serif" font-size="100" fill="#1a1a1a" stroke="#1a1a1a" stroke-width="0.25" vector-effect="non-scaling-stroke">5</text><text transform="matrix(0.12292 0.00000 0.00000 0.11549 63.60833 278.18451)" font-family="&quot;Liberation Sans&quot;, sans-serif" font-size="100" fill="#1a1a1a" stroke="#fff" stroke-width="0.03" vector-effect="non-scaling-stroke">0</text><text transform="matrix(0.10000 0.00000 0.00000 0.08732 77.90000 273.01268)" font-family="&quot;Liberation Sans&quot;, sans-serif" font-size="100" fill="#1a1a1a" stroke="#1a1a1a" stroke-width="0.25" vector-effect="non-scaling-stroke">6</text><text transform="matrix(0.00000 -0.17692 0.15604 0.00000 12.92308 68.54615)" font-family="&quot;Liberation Serif&quot;, serif" font-size="100" font-style="italic" fill="#1a1a1a" stroke="#fff" stroke-width="0.08" vector-effect="non-scaling-stroke">β</text><text transform="matrix(0.00000 -0.13273 0.10909 0.00000 19.09091 59.59818)" font-family="&quot;Liberation Serif&quot;, serif" font-size="100" fill="#1a1a1a">He</text><text transform="matrix(0.00000 -0.15217 0.19390 0.00000 46.57927 84.96522)" font-family="&quot;Liberation Serif&quot;, serif" font-size="100" fill="#1a1a1a" stroke="#fff" stroke-width="0.08" vector-effect="non-scaling-stroke">[</text><text transform="matrix(0.00000 -0.16512 0.14545 0.00000 46.15455 78.49535)" font-family="&quot;Liberation Sans&quot;, sans-serif" font-size="100" fill="#1a1a1a" stroke="#fff" stroke-width="0.22" vector-effect="non-scaling-stroke">s</text><text transform="matrix(0.00000 -0.15106 0.14545 0.00000 46.15455 70.00426)" font-family="&quot;Liberation Sans&quot;, sans-serif" font-size="100" fill="#1a1a1a" stroke="#fff" stroke-width="0.22" vector-effect="non-scaling-stroke">e</text><text transform="matrix(0.00000 -0.16744 0.14545 0.00000 46.15455 60.66977)" font-family="&quot;Liberation Sans&quot;, sans-serif" font-size="100" fill="#1a1a1a" stroke="#fff" stroke-width="0.22" vector-effect="non-scaling-stroke">c</text><text transform="matrix(0.00000 -0.11143 0.12576 0.00000 39.40000 41.50286)" font-family="&quot;Liberation Serif&quot;, serif" font-size="100" fill="#1a1a1a">1</text><text transform="matrix(0.00000 -0.17273 0.19268 0.00000 46.59512 34.49091)" font-family="&quot;Liberation Serif&quot;, serif" font-size="100" fill="#1a1a1a" stroke="#fff" stroke-width="0.08" vector-effect="non-scaling-stroke">]</text><text transform="matrix(0.00000 -0.14242 0.15692 0.00000 12.40000 168.62727)" font-family="&quot;Liberation Serif&quot;, serif" font-size="100" fill="#1a1a1a" stroke="#fff" stroke-width="0.08" vector-effect="non-scaling-stroke">H</text><text transform="matrix(0.00000 -0.16486 0.14375 0.00000 12.25625 158.35946)" font-family="&quot;Liberation Serif&quot;, serif" font-size="100" fill="#1a1a1a" stroke="#fff" stroke-width="0.08" vector-effect="non-scaling-stroke">e</text><text transform="matrix(0.00000 -0.14808 0.15824 0.00000 13.27692 147.40385)" font-family="&quot;Liberation Serif&quot;, serif" font-size="100" font-style="italic" fill="#1a1a1a" stroke="#fff" stroke-width="0.08" vector-effect="non-scaling-stroke">β</text><text transform="matrix(0.00000 -0.12636 0.11515 0.00000 19.08485 138.67909)" font-family="&quot;Liberation Serif&quot;, serif" font-size="100" fill="#1a1a1a">He</text><text transform="matrix(0.00000 -0.19130 0.19390 0.00000 46.57927 189.93913)" font-family="&quot;Liberation Serif&quot;, serif" font-size="100" fill="#1a1a1a" stroke="#fff" stroke-width="0.08" vector-effect="non-scaling-stroke">[</text><text transform="matrix(0.00000 -0.19316 0.15625 0.00000 46.24375 182.37265)" font-family="&quot;Liberation Serif&quot;, serif" font-size="100" fill="#1a1a1a" stroke="#fff" stroke-width="0.08" vector-effect="non-scaling-stroke">cm</text><text transform="matrix(0.00000 -0.19268 0.11970 0.00000 39.08030 148.46341)" font-family="&quot;Liberation Serif&quot;, serif" font-size="100" fill="#1a1a1a">3</text><text transform="matrix(0.00000 -0.22903 0.15000 0.00000 46.25000 134.91613)" font-family="&quot;Liberation Serif&quot;, serif" font-size="100" fill="#1a1a1a" stroke="#fff" stroke-width="0.08" vector-effect="non-scaling-stroke">s</text><text transform="matrix(0.00000 -0.13714 0.12576 0.00000 39.60000 117.03429)" font-family="&quot;Liberation Serif&quot;, serif" font-size="100" fill="#1a1a1a">1</text><text transform="matrix(0.00000 -0.17727 0.19756 0.00000 46.53171 108.60909)" font-family="&quot;Liberation Serif&quot;, serif" font-size="100" fill="#1a1a1a" stroke="#fff" stroke-width="0.08" vector-effect="non-scaling-stroke">]</text><text transform="matrix(0.00000 -0.17111 0.14286 0.00000 12.05714 263.88444)" font-family="&quot;Liberation Serif&quot;, serif" font-size="100" fill="#1a1a1a" stroke="#fff" stroke-width="0.08" vector-effect="non-scaling-stroke">d</text><text transform="matrix(0.00000 -0.16604 0.14462 0.00000 12.20000 254.29811)" font-family="&quot;Liberation Serif&quot;, serif" font-size="100" fill="#1a1a1a" stroke="#fff" stroke-width="0.08" vector-effect="non-scaling-stroke">E</text><text transform="matrix(0.00000 -0.08936 0.12239 0.00000 19.05522 243.70000)" font-family="&quot;Liberation Serif&quot;, serif" font-size="100" fill="#1a1a1a">W</text><text transform="matrix(0.00000 -0.18667 0.14714 0.00000 11.95286 223.64667)" font-family="&quot;Liberation Serif&quot;, serif" font-size="100" fill="#1a1a1a" stroke="#fff" stroke-width="0.08" vector-effect="non-scaling-stroke">d</text><text transform="matrix(0.00000 -0.23462 0.13684 0.00000 11.86316 213.53462)" font-family="&quot;Liberation Serif&quot;, serif" font-size="100" fill="#1a1a1a" stroke="#fff" stroke-width="0.08" vector-effect="non-scaling-stroke">t</text><text transform="matrix(0.00000 -0.19130 0.18537 0.00000 46.49024 272.13913)" font-family="&quot;Liberation Serif&quot;, serif" font-size="100" fill="#1a1a1a" stroke="#fff" stroke-width="0.08" vector-effect="non-scaling-stroke">[</text><text transform="matrix(0.00000 -0.19435 0.15652 0.00000 47.00000 264.88871)" font-family="&quot;Liberation Serif&quot;, serif" font-size="100" fill="#1a1a1a" stroke="#fff" stroke-width="0.08" vector-effect="non-scaling-stroke">km</text><text transform="matrix(0.00000 -0.16250 0.10154 0.00000 38.40000 239.15000)" font-family="&quot;Liberation Serif&quot;, serif" font-size="100" fill="#1a1a1a">2</text><text transform="matrix(0.00000 -0.20645 0.16250 0.00000 46.33750 222.22581)" font-family="&quot;Liberation Serif&quot;, serif" font-size="100" fill="#1a1a1a" stroke="#fff" stroke-width="0.08" vector-effect="non-scaling-stroke">s</text><text transform="matrix(0.00000 -0.15610 0.10758 0.00000 38.59242 212.88049)" font-family="&quot;Liberation Serif&quot;, serif" font-size="100" fill="#1a1a1a">3</text><text transform="matrix(0.00000 -0.14091 0.18780 0.00000 46.65854 204.36364)" font-family="&quot;Liberation Serif&quot;, serif" font-size="100" fill="#1a1a1a" stroke="#fff" stroke-width="0.08" vector-effect="non-scaling-stroke">]</text></g></svg></body></html>
